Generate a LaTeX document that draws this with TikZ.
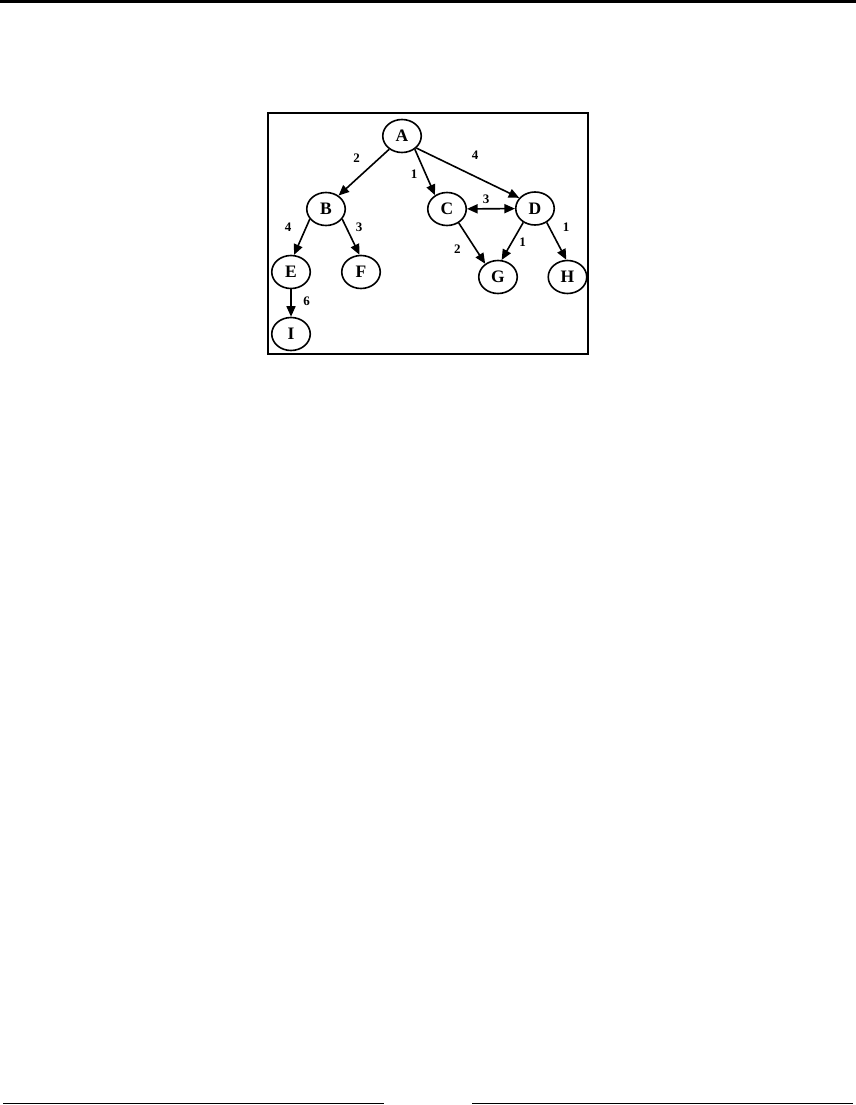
\documentclass[tikz,border=0pt]{standalone}
\usepackage{fontspec}
\setmainfont{Liberation Serif}
\usetikzlibrary{shapes.geometric,arrows.meta}
\begin{document}
\begin{tikzpicture}[x=1pt,y=-1pt,
  vert/.style={ellipse,draw,line width=1.6pt,minimum width=38.5pt,minimum height=33pt,inner sep=0pt,font=\fontsize{17.5}{17.5}\selectfont\bfseries},
  lbl/.style={font=\fontsize{13}{13}\selectfont\bfseries,inner sep=0pt},
  arr/.style={line width=1.6pt,-{Triangle[length=10.5pt,width=9pt]}},
  darr/.style={line width=1.6pt,{Triangle[length=10.5pt,width=9pt]}-{Triangle[length=10.5pt,width=9pt]}}]
\useasboundingbox (0,0) rectangle (856,1105);
% page rules
\draw[line width=3pt] (0,1.5) -- (856,1.5);
\draw[line width=1.3pt] (3,1103.5) -- (384,1103.5);
\draw[line width=1.3pt] (472,1103.5) -- (853,1103.5);
% frame
\draw[line width=2pt] (267.7,112.7) rectangle (587.7,354.3);
% nodes
\node[vert] (A) at (402,136) {A};
\node[vert] (B) at (326,209) {B};
\node[vert] (C) at (447,209) {C};
\node[vert] (D) at (535,208.5) {D};
\node[vert] (E) at (291,272) {E};
\node[vert] (F) at (361,272) {F};
\node[vert] (G) at (498,277) {G};
\node[vert] (H) at (567.5,277) {H};
\node[vert] (I) at (291,334) {I};
% edges
\draw[arr] (A.226) -- (B.47);
\draw[arr] (A.-46) -- (C.131);
\draw[arr] (A.-40) -- (D.146);
\draw[darr] (C) -- (D);
\draw[arr] (B.212) -- (E.80);
\draw[arr] (B.-32) -- (F.95);
\draw[arr] (C.-50) -- (G.134);
\draw[arr] (D.230) -- (G.78);
\draw[arr] (D.-50) -- (H.94);
\draw[arr] (E) -- (I);
% labels
\node[lbl] (l1) at (356.7,158) {2};
\node[lbl] (l2) at (414,174) {1};
\node[lbl] (l3) at (475,155.5) {4};
\node[lbl] (l4) at (486,199) {3};
\node[lbl] (l5) at (288,227) {4};
\node[lbl] (l6) at (359,227) {3};
\node[lbl] (l7) at (566,227.3) {1};
\node[lbl] (l8) at (457.3,249) {2};
\node[lbl] (l9) at (522.7,242) {1};
\node[lbl] (l10) at (306.7,301.7) {6};
\end{tikzpicture}
\end{document}
